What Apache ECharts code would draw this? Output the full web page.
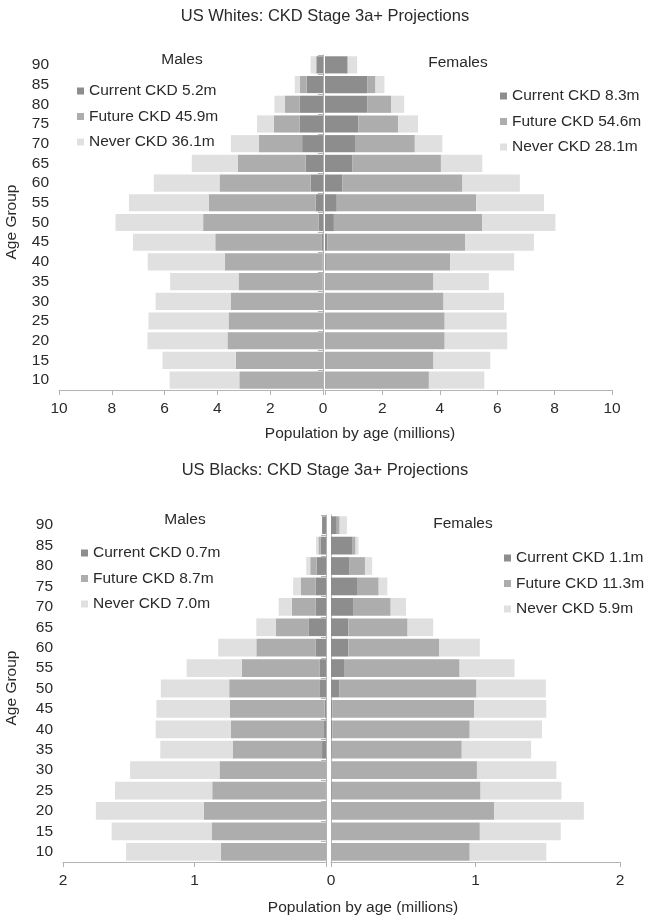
<!DOCTYPE html>
<html>
  <head>
    <meta charset="utf-8" />
    <title>CKD Stage 3a+ Projections</title>
    <script src="https://cdn.jsdelivr.net/npm/echarts@6/dist/echarts.min.js"></script>
  </head>
  <body style="margin:0">
    <div id="main" style="width: 649px;height:922px; background-color: white"></div>
    <script type="text/javascript">
      var myChart = echarts.init(document.getElementById('main'));

      // age groups, bottom to top
      var ages = ['10','15','20','25','30','35','40','45','50','55','60','65','70','75','80','85','90'];

      // US Whites, millions
      var whiteMaleCurrent = [0, 0, 0, 0, 0, 0.01, 0.02, 0.06, 0.16, 0.28, 0.47, 0.66, 0.79, 0.89, 0.88, 0.62, 0.24];
      var whiteMaleFuture  = [3.17, 3.3, 3.62, 3.58, 3.5, 3.19, 3.7, 4.02, 4.38, 4.05, 3.45, 2.56, 1.64, 0.97, 0.57, 0.25, 0.04];
      var whiteMaleNever   = [2.64, 2.78, 3.03, 3.03, 2.84, 2.59, 2.92, 3.12, 3.32, 3.02, 2.49, 1.75, 1.06, 0.64, 0.39, 0.2, 0.19];
      var whiteFemaleCurrent = [0, 0, 0, 0, 0, 0, 0.03, 0.08, 0.31, 0.41, 0.61, 0.96, 1.07, 1.16, 1.47, 1.47, 0.78];
      var whiteFemaleFuture  = [3.62, 3.78, 4.17, 4.17, 4.13, 3.78, 4.33, 4.8, 5.16, 4.86, 4.18, 3.08, 2.06, 1.39, 0.83, 0.29, 0.02];
      var whiteFemaleNever   = [1.93, 1.98, 2.18, 2.16, 2.11, 1.93, 2.23, 2.4, 2.56, 2.36, 2.0, 1.44, 0.96, 0.69, 0.46, 0.31, 0.32];

      // US Blacks, millions
      var blackMaleCurrent = [0, 0, 0, 0.005, 0, 0.03, 0.015, 0.01, 0.046, 0.05, 0.08, 0.13, 0.08, 0.08, 0.07, 0.04, 0.03];
      var blackMaleFuture  = [0.8, 0.87, 0.93, 0.86, 0.81, 0.68, 0.71, 0.72, 0.69, 0.59, 0.45, 0.25, 0.18, 0.11, 0.05, 0.018, 0];
      var blackMaleNever   = [0.72, 0.76, 0.82, 0.74, 0.68, 0.55, 0.57, 0.56, 0.52, 0.42, 0.29, 0.15, 0.1, 0.06, 0.03, 0.018, 0];
      var blackFemaleCurrent = [0, 0, 0, 0.005, 0, 0.005, 0.01, 0.01, 0.057, 0.09, 0.12, 0.12, 0.157, 0.18, 0.125, 0.15, 0.04];
      var blackFemaleFuture  = [0.96, 1.03, 1.13, 1.03, 1.01, 0.9, 0.95, 0.98, 0.95, 0.8, 0.63, 0.41, 0.256, 0.15, 0.11, 0.02, 0.02];
      var blackFemaleNever   = [0.53, 0.56, 0.62, 0.56, 0.55, 0.48, 0.5, 0.5, 0.48, 0.38, 0.28, 0.177, 0.106, 0.06, 0.05, 0.02, 0.05];

      // legend labels (totals)
      var whiteMaleNames   = ['Current CKD 5.2m', 'Future CKD 45.9m', 'Never CKD 36.1m'];
      var whiteFemaleNames = ['Current CKD 8.3m', 'Future CKD 54.6m', 'Never CKD 28.1m'];
      var blackMaleNames   = ['Current CKD 0.7m', 'Future CKD 8.7m', 'Never CKD 7.0m'];
      var blackFemaleNames = ['Current CKD 1.1m', 'Future CKD 11.3m', 'Never CKD 5.9m'];

      var colors = ['#8d8d8d', '#adadad', '#e0e0e0'];
      var font = 'Liberation Sans, Arial, sans-serif';
      var textColor = '#2a2a2a';
      var lineColor = '#b4b4b4';

      function xAxisOf(grid, max, interval, inverse, hideZero) {
        return {
          type: 'value', gridIndex: grid, min: 0, max: max, interval: interval, inverse: inverse,
          splitLine: { show: false },
          axisLine: { show: true, lineStyle: { color: lineColor } },
          axisTick: { show: true, length: 5, lineStyle: { color: lineColor } },
          axisLabel: {
            fontSize: 15.5, fontFamily: font, color: textColor, margin: 11,
            formatter: function (v) { return (hideZero && v === 0) ? '' : v; }
          }
        };
      }

      function yAxisOf(grid, showLabel, showLine) {
        return {
          type: 'category', gridIndex: grid, data: ages,
          axisLine: { show: showLine, lineStyle: { color: lineColor } },
          axisTick: { show: showLabel, length: 5, interval: 0, lineStyle: { color: lineColor } },
          axisLabel: { show: showLabel, interval: 0, fontSize: 15.5, fontFamily: font, color: textColor, margin: 10 }
        };
      }

      function barsOf(names, values, axis, stack) {
        return names.map(function (n, i) {
          return {
            name: n, type: 'bar', stack: stack,
            xAxisIndex: axis, yAxisIndex: axis,
            barCategoryGap: '13%',
            itemStyle: { color: colors[i] },
            data: values[i]
          };
        });
      }

      function legendOf(names, left, top) {
        return {
          data: names, orient: 'vertical', left: left, top: top, padding: 0,
          icon: 'rect', itemWidth: 7, itemHeight: 7, itemGap: 9.5,
          selectedMode: false,
          textStyle: { fontSize: 15.5, fontFamily: font, color: textColor, padding: [0, 0, 0, 0] }
        };
      }

      function label(text, x, y, size, rot) {
        return {
          type: 'text', x: x, y: y, rotation: rot || 0,
          style: {
            text: text, fill: textColor, font: size + 'px ' + font,
            align: 'center', verticalAlign: 'middle',
            textAlign: 'center', textVerticalAlign: 'middle'
          }
        };
      }

      var option = {
        animation: false,
        grid: [
          { left: 59, top: 55, width: 264, height: 335 },
          { left: 325, top: 55, width: 287, height: 335 },
          { left: 63, top: 515, width: 263, height: 347 },
          { left: 331, top: 515, width: 289, height: 347 }
        ],
        xAxis: [
          xAxisOf(0, 10, 2, true, false),
          xAxisOf(1, 10, 2, false, true),
          xAxisOf(2, 2, 1, true, true),
          xAxisOf(3, 2, 1, false, false)
        ],
        yAxis: [
          yAxisOf(0, true, true),
          yAxisOf(1, false, false),
          yAxisOf(2, true, true),
          yAxisOf(3, false, true)
        ],
        legend: [
          legendOf(whiteMaleNames, 77, 83),
          legendOf(whiteFemaleNames, 500, 88),
          legendOf(blackMaleNames, 81, 545),
          legendOf(blackFemaleNames, 504, 550)
        ],
        graphic: [
          label('US Whites: CKD Stage 3a+ Projections', 325, 16, 16.5),
          label('US Blacks: CKD Stage 3a+ Projections', 325, 470, 16.5),
          label('Males', 182, 60, 15.5),
          label('Females', 458, 63, 15.5),
          label('Males', 185, 520, 15.5),
          label('Females', 463, 524, 15.5),
          label('Population by age (millions)', 360, 434, 15.5),
          label('Population by age (millions)', 363, 908, 15.5),
          label('Age Group', 12, 222, 15.5, Math.PI / 2),
          label('Age Group', 12, 688, 15.5, Math.PI / 2)
        ],
        series: [].concat(
          barsOf(whiteMaleNames, [whiteMaleCurrent, whiteMaleFuture, whiteMaleNever], 0, 'wm'),
          barsOf(whiteFemaleNames, [whiteFemaleCurrent, whiteFemaleFuture, whiteFemaleNever], 1, 'wf'),
          barsOf(blackMaleNames, [blackMaleCurrent, blackMaleFuture, blackMaleNever], 2, 'bm'),
          barsOf(blackFemaleNames, [blackFemaleCurrent, blackFemaleFuture, blackFemaleNever], 3, 'bf')
        )
      };

      myChart.setOption(option);
    </script>
  </body>
</html>
